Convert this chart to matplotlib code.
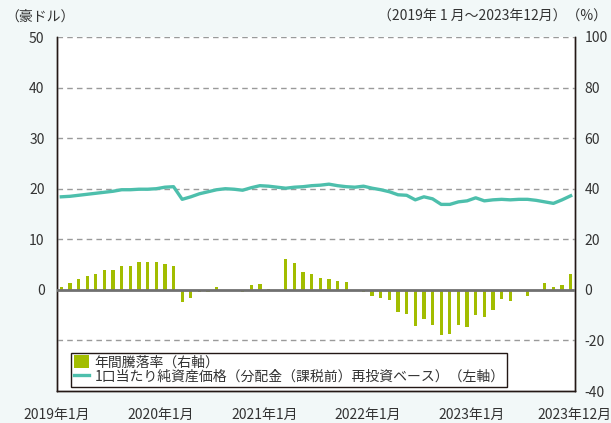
import matplotlib
matplotlib.use("Agg")
import matplotlib.pyplot as plt
import numpy as np

plt.rcParams['font.family'] = ['Noto Sans CJK JP', 'DejaVu Sans']
plt.rcParams['axes.unicode_minus'] = False

# Data: monthly, 2019-01 .. 2023-12
months = [f"{y}-{m:02d}" for y in range(2019, 2024) for m in range(1, 13)]

nav = [18.4, 18.5, 18.7, 18.9, 19.1, 19.3, 19.5, 19.8, 19.8, 19.9, 19.9, 20.0,
       20.3, 20.4, 17.9, 18.4, 19.0, 19.4, 19.8, 20.0, 19.9, 19.7, 20.2, 20.6,
       20.5, 20.3, 20.1, 20.3, 20.4, 20.6, 20.7, 20.9, 20.6, 20.4, 20.3, 20.5,
       20.1, 19.8, 19.4, 18.8, 18.7, 17.8, 18.4, 18.0, 16.9, 16.9, 17.4, 17.6,
       18.2, 17.6, 17.8, 17.9, 17.8, 17.9, 17.9, 17.7, 17.4, 17.1, 17.8, 18.6]

annual_return = [1.3, 2.9, 4.1, 5.3, 6.1, 8.0, 8.0, 9.6, 9.6, 11.2, 11.2, 11.2,
                 10.4, 9.6, -4.9, -3.3, -0.9, -0.9, 1.3, 0.1, -0.5, -0.9, 2.1, 2.5,
                 0.5, -0.3, 12.4, 10.8, 7.2, 6.1, 4.5, 4.1, 3.7, 3.3, 0.1, -0.9,
                 -2.5, -3.3, -4.1, -8.8, -9.6, -14.4, -11.6, -14.0, -17.9, -17.5, -14.0, -14.8,
                 -10.0, -10.8, -8.0, -3.7, -4.5, -0.1, -2.5, -0.3, 2.9, 1.3, 2.1, 6.1]

xtick_labels = ["2019年1月", "2020年1月", "2021年1月", "2022年1月", "2023年1月", "2023年12月"]
xtick_pos = [-0.5, 11.5, 23.5, 35.5, 47.5, 59.5]
left_ticks = [0, 10, 20, 30, 40, 50]
right_ticks = [-40, -20, 0, 20, 40, 60, 80, 100]

bar_color = "#a2bd00"
line_color = "#4dbfac"
text_color = "#333333"
bg = "#f2f8f8"

fig = plt.figure(figsize=(6.11, 4.23), dpi=100, facecolor=bg)
ax2 = fig.add_axes([57/611, 1 - 391/423, (575-57)/611, (391-37)/423])
ax = ax2.twinx()
# swap sides: ax (line) should use left axis, ax2 (bars) right axis
ax.yaxis.tick_left()
ax2.yaxis.tick_right()
ax.yaxis.set_label_position("left")

x = np.arange(len(months))

ax2.set_facecolor("white")
ax2.set_ylim(-40, 100)
ax.set_ylim(-20, 50)
ax2.set_xlim(-0.5, len(months) - 0.5)

# grid (left-axis units)
for v in [-10, 10, 20, 30, 40, 50]:
    ax.axhline(v, color="#9a9a9a", lw=1.0, ls=(0, (4, 3)), zorder=1)

ax2.bar(x, annual_return, width=0.38, color=bar_color, zorder=2, label="年間騰落率（右軸）")
ax.axhline(0, color="#707070", lw=2.0, zorder=3)
ax.plot(x, nav, color=line_color, lw=2.4, zorder=4,
        label="1口当たり純資産価格（分配金（課税前）再投資ベース）（左軸）")

ax.set_zorder(ax2.get_zorder() + 1)
ax.patch.set_visible(False)

for a in (ax, ax2):
    a.spines['top'].set_visible(False)
    for s in ['left', 'right', 'bottom']:
        a.spines[s].set_color("#231815")
        a.spines[s].set_linewidth(1.0)

ax.set_yticks(left_ticks)
ax.set_yticklabels([str(t) for t in left_ticks])
ax2.set_yticks(right_ticks)
ax2.set_yticklabels([str(t) for t in right_ticks])
ax.tick_params(axis='y', length=0, pad=9, labelsize=10, colors=text_color)
ax2.tick_params(axis='y', length=0, pad=7, labelsize=10, colors=text_color)

ax2.set_xticks(xtick_pos)
ax2.set_xticklabels(xtick_labels)
ax2.tick_params(axis='x', length=0, pad=12, labelsize=10, colors=text_color)
ax.tick_params(axis='x', length=0)

h2, l2 = ax2.get_legend_handles_labels()
h1, l1 = ax.get_legend_handles_labels()
leg = ax.legend(h2 + h1, l2 + l1, loc="lower left", bbox_to_anchor=(0.027, 0.012),
                frameon=True, fancybox=False, edgecolor="#231815", framealpha=1,
                fontsize=10, handlelength=1.1, handleheight=1.0, handletextpad=0.4,
                borderpad=0.2, labelspacing=0.05, borderaxespad=0)
leg.get_frame().set_linewidth(1.0)
for t in leg.get_texts():
    t.set_color(text_color)

fig.text(5/611, 1 - 17/423, "（豪ドル）", fontsize=10, color=text_color, va="center", ha="left")
fig.text(607/611, 1 - 17/423, "（2019年 1 月～2023年12月）（%）", fontsize=10,
         color=text_color, va="center", ha="right")

fig.savefig("out.png", dpi=100, facecolor=bg)
